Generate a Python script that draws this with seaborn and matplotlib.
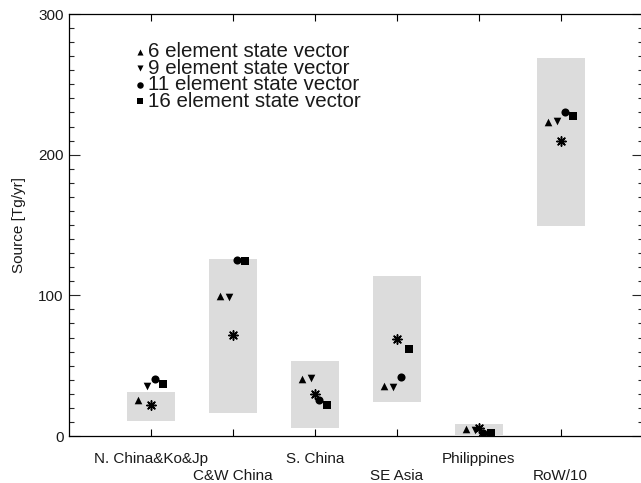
import matplotlib
matplotlib.use("Agg")
import matplotlib.pyplot as plt
import seaborn as sns
import numpy as np
import pandas as pd

categories = ["N. China&Ko&Jp", "C&W China", "S. China", "SE Asia", "Philippines", "RoW/10"]
range_low = [11, 16, 6, 24, 1, 149]
range_high = [31, 126, 53, 114, 8.5, 269]
six_el = [25.6, 99.7, 40.3, 35.8, 5.2, 223.4]
nine_el = [35.5, 99.0, 41.5, 34.8, 4.3, 224.0]
eleven_el = [40.3, 125.0, 25.6, 41.7, 2.3, 230.5]
sixteen_el = [37.0, 124.4, 22.3, 61.6, 2.3, 227.4]
apriori = [22.0, 71.6, 29.9, 68.7, 5.4, 209.7]

sns.set_theme(style="ticks")
plt.rcParams['font.family'] = ['Liberation Sans', 'DejaVu Sans']

fig = plt.figure(figsize=(6.41, 4.83), dpi=100)
W, H = 641, 483
ax = fig.add_axes([68.7 / W, (H - 436) / H, (642.7 - 68.7) / W, (436 - 14) / H])

idx = np.arange(len(categories))
ax.bar(idx, np.array(range_high) - np.array(range_low), bottom=range_low,
       width=0.59, color='#dcdcdc', edgecolor='none', zorder=1)

series = [
    ("6 element state vector", six_el, '^', -0.15, 30),
    ("9 element state vector", nine_el, 'v', -0.05, 30),
    ("11 element state vector", eleven_el, 'o', 0.05, 34),
    ("16 element state vector", sixteen_el, 's', 0.15, 28),
]
for name, vals, mk, off, s in series:
    df = pd.DataFrame({"x": idx + off, "y": vals})
    sns.scatterplot(data=df, x="x", y="y", marker=mk, s=s, color='black',
                    linewidth=0, ax=ax, label=name, zorder=3)

dfa = pd.DataFrame({"x": idx, "y": apriori})
sns.scatterplot(data=dfa, x="x", y="y", marker=(8, 2, 0), s=45, color='black',
                linewidth=1.1, ax=ax, zorder=3)

handles, labels = ax.get_legend_handles_labels()
leg = ax.legend(handles[:4], labels[:4], loc='upper left', bbox_to_anchor=(0.1138, 0.9335),
                frameon=False, fontsize=14.8, handletextpad=0.1, handlelength=0.6,
                borderaxespad=0, borderpad=0, labelspacing=-0.12, markerscale=0.8,
                scatterpoints=1)
for t in leg.get_texts():
    t.set_color('#1a1a1a')

ax.set_xlim(-1, 6)
ax.set_ylim(0, 300)

ax.set_xticks(idx[::2], [categories[i] for i in idx[::2]])
ax.set_xticks(idx[1::2], [categories[i] for i in idx[1::2]], minor=True)
ax.set_yticks([0, 100, 200, 300])
ax.set_yticks(np.arange(0, 301, 10), minor=True)

ax.tick_params(axis='x', which='both', direction='in', length=5, width=0.8,
               top=True, bottom=True, labelsize=11, labelcolor='#1a1a1a', color='black')
ax.tick_params(axis='x', which='major', pad=11.5)
ax.tick_params(axis='x', which='minor', pad=24)
ax.tick_params(axis='y', which='major', direction='in', length=8, width=0.8,
               left=True, right=True, labelsize=11, labelcolor='#1a1a1a', pad=3.6)
ax.tick_params(axis='y', which='minor', direction='in', length=3.6, width=0.8,
               left=True, right=True)

ax.set_xlabel("")
ax.set_ylabel("Source [Tg/yr]", fontsize=11, color='#1a1a1a')
ax.yaxis.set_label_coords(-(68.7 - 26) / 574, 0.5)

for sp in ax.spines.values():
    sp.set_linewidth(0.9)
    sp.set_color('black')
    sp.set_visible(True)

fig.savefig("out.png", dpi=100)
